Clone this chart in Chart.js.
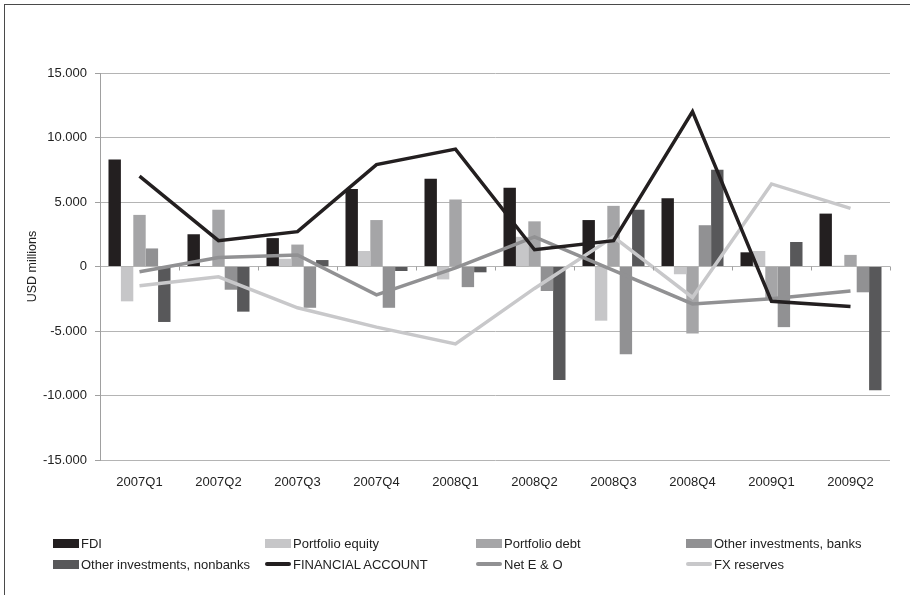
<!DOCTYPE html>
<html>
<head>
<meta charset="utf-8">
<script src="https://cdn.jsdelivr.net/npm/chart.js@4.4.1/dist/chart.umd.min.js"></script>
<style>
    html, body { margin: 0; padding: 0; background: #ffffff; }
    #wrap { position: relative; width: 910px; height: 595px; overflow: hidden; }
    #frame {
        position: absolute; left: 4px; top: 4px; right: -2px; bottom: -2px;
        border-left: 1px solid #4a4a4a; border-top: 1px solid #4a4a4a;
    }
    #chart { position: absolute; left: 0; top: 0; }
    .legend-item {
        position: absolute; height: 16px; display: flex; align-items: center;
        font-family: "Liberation Sans", Arial, sans-serif; font-size: 13px; color: #222;
        white-space: nowrap;
    }
    .legend-item .swatch { width: 26px; margin-right: 2px; }
</style>
</head>
<body>
<div id="wrap">
    <div id="frame"></div>
    <canvas id="chart" width="910" height="595"></canvas>
    <div id="legend"></div>
</div>
<script>
// Quarterly capital flows, USD millions
const categories = ['2007Q1', '2007Q2', '2007Q3', '2007Q4', '2008Q1', '2008Q2', '2008Q3', '2008Q4', '2009Q1', '2009Q2'];

const fdi              = [8300, 2500, 2200, 6000, 6800, 6100, 3600, 5300, 1100, 4100];
const portfolioEquity  = [-2700, 0, 600, 1200, -1000, 2300, -4200, -600, 1200, 60];
const portfolioDebt    = [4000, 4400, 1700, 3600, 5200, 3500, 4700, -5200, -2500, 900];
const otherBanks       = [1400, -1800, -3200, -3200, -1600, -1900, -6800, 3200, -4700, -2000];
const otherNonbanks    = [-4300, -3500, 500, -350, -450, -8800, 4400, 7500, 1900, -9600];
const financialAccount = [7000, 2000, 2700, 7900, 9100, 1300, 2000, 12000, -2700, -3100];
const netEO            = [-400, 700, 900, -2200, -100, 2300, -300, -2900, -2500, -1900];
const fxReserves       = [-1500, -800, -3200, -4700, -6000, -1700, 2300, -2400, 6400, 4500];

const yTicks = [-15000, -10000, -5000, 0, 5000, 10000, 15000];

const FONT = '"Liberation Sans", Arial, sans-serif';

function formatThousands(v) {
    const s = Math.abs(v).toString().replace(/\B(?=(\d{3})+(?!\d))/g, '.');
    return (v < 0 ? '-' : '') + s;
}

const barSeries = [
    { label: 'FDI', data: fdi, color: '#231f20' },
    { label: 'Portfolio equity', data: portfolioEquity, color: '#c6c6c8' },
    { label: 'Portfolio debt', data: portfolioDebt, color: '#a5a5a7' },
    { label: 'Other investments, banks', data: otherBanks, color: '#919193' },
    { label: 'Other investments, nonbanks', data: otherNonbanks, color: '#58585a' }
];
const lineSeries = [
    { label: 'FINANCIAL ACCOUNT', data: financialAccount, color: '#231f20' },
    { label: 'Net E & O', data: netEO, color: '#919193' },
    { label: 'FX reserves', data: fxReserves, color: '#c8c8ca' }
];

const datasets = [];
barSeries.forEach(s => {
    datasets.push({
        type: 'bar',
        label: s.label,
        data: s.data,
        backgroundColor: s.color,
        borderWidth: 0,
        barPercentage: 1.0,
        categoryPercentage: 0.785,
        order: 2
    });
});
lineSeries.forEach(s => {
    datasets.push({
        type: 'line',
        label: s.label,
        data: s.data,
        borderColor: s.color,
        backgroundColor: s.color,
        borderWidth: 3.5,
        pointRadius: 0,
        tension: 0,
        fill: false,
        order: 1
    });
});

// small category ticks on the zero line, as in the original
const zeroTicks = {
    id: 'zeroTicks',
    afterDatasetsDraw(chart) {
        const x = chart.scales.x;
        const y = chart.scales.y;
        const y0 = y.getPixelForValue(0);
        const step = (x.right - x.left) / categories.length;
        const ctx = chart.ctx;
        ctx.save();
        ctx.strokeStyle = '#a0a0a0';
        ctx.lineWidth = 1;
        for (let i = 1; i <= categories.length; i++) {
            const px = Math.round(x.left + step * i) + 0.5;
            ctx.beginPath();
            ctx.moveTo(px, y0);
            ctx.lineTo(px, y0 + 4);
            ctx.stroke();
        }
        ctx.restore();
    }
};

new Chart(document.getElementById('chart').getContext('2d'), {
    type: 'bar',
    data: { labels: categories, datasets: datasets },
    options: {
        responsive: false,
        animation: false,
        devicePixelRatio: 1,
        layout: { padding: { top: 73, right: 20, bottom: 95, left: 0 } },
        plugins: {
            legend: { display: false },
            tooltip: { enabled: false }
        },
        scales: {
            x: {
                grid: { display: false },
                border: { display: false },
                ticks: {
                    color: '#222',
                    padding: 7,
                    maxRotation: 0,
                    font: { family: FONT, size: 13 }
                },
                afterFit(scale) { scale.height = 40; }
            },
            y: {
                min: -15000,
                max: 15000,
                afterBuildTicks(scale) { scale.ticks = yTicks.map(v => ({ value: v })); },
                grid: { color: '#b4b4b4', tickColor: '#a0a0a0', tickLength: 5, lineWidth: 1 },
                border: { display: true, color: '#a0a0a0', width: 1 },
                ticks: {
                    color: '#222',
                    padding: 8,
                    font: { family: FONT, size: 13 },
                    callback: v => formatThousands(v)
                },
                title: {
                    display: true,
                    text: 'USD millions',
                    color: '#222',
                    padding: { top: 25, bottom: 0 },
                    font: { family: FONT, size: 12.5 }
                },
                afterFit(scale) { scale.width = 100; }
            }
        }
    },
    plugins: [zeroTicks]
});

// legend: 4 columns, 2 rows
const legendCols = [53, 265, 476, 686];
const legendRows = [535, 556];
const legendEl = document.getElementById('legend');
const legendItems = barSeries.map(s => ({ label: s.label, color: s.color, kind: 'bar' }))
    .concat(lineSeries.map(s => ({ label: s.label, color: s.color, kind: 'line' })));
legendItems.forEach((item, i) => {
    const div = document.createElement('div');
    div.className = 'legend-item';
    div.style.left = legendCols[i % 4] + 'px';
    div.style.top = legendRows[Math.floor(i / 4)] + 'px';
    const sw = document.createElement('span');
    sw.className = 'swatch';
    sw.style.background = item.color;
    sw.style.height = item.kind === 'bar' ? '9px' : '4px';
    if (item.kind === 'line') sw.style.borderRadius = '2px';
    const txt = document.createElement('span');
    txt.textContent = item.label;
    div.appendChild(sw);
    div.appendChild(txt);
    legendEl.appendChild(div);
});
</script>
</body>
</html>
